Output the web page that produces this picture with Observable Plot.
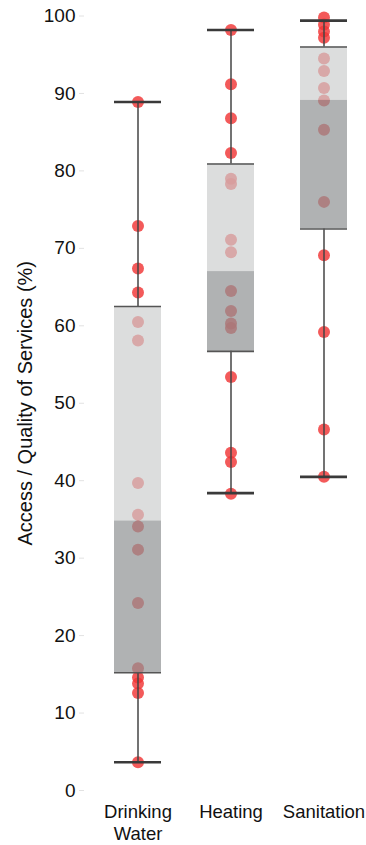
<!DOCTYPE html>
<html>
<head>
<meta charset="utf-8">
<script src="https://cdn.jsdelivr.net/npm/d3@7"></script>
<script src="https://cdn.jsdelivr.net/npm/@observablehq/plot@0.6"></script>
<style>
  html, body { margin: 0; padding: 0; background: #fff; }
</style>
</head>
<body>
<div id="chart"></div>
<script>
const categories = ["Drinking Water", "Heating", "Sanitation"];
const yTicks = [0, 10, 20, 30, 40, 50, 60, 70, 80, 90, 100];
const yTitle = "Access / Quality of Services (%)";

// individual observations per category
const drinkingWater = [88.9, 72.9, 67.4, 64.3, 60.5, 58.1, 39.7, 35.6, 34.1, 31.1, 24.2, 15.8, 14.6, 13.8, 12.6, 3.65];
const heating = [98.2, 91.2, 86.8, 82.3, 79.0, 78.3, 71.1, 69.5, 64.5, 61.9, 60.3, 59.7, 53.4, 43.6, 42.4, 38.3];
const sanitation = [99.8, 98.9, 98.0, 97.2, 94.5, 92.9, 90.7, 89.1, 85.3, 76.0, 69.1, 59.2, 46.6, 40.5];

// box statistics per category (same order as categories)
const whiskerMin = [3.65, 38.4, 40.5];
const q1 = [15.2, 56.7, 72.5];
const median = [34.8, 67.0, 89.1];
const q3 = [62.5, 80.9, 96.0];
const whiskerMax = [88.9, 98.2, 99.4];

const seriesValues = [drinkingWater, heating, sanitation];
const points = categories.flatMap((c, i) => seriesValues[i].map(v => ({category: c, value: v})));
const stats = categories.map((c, i) => ({
  category: c, min: whiskerMin[i], q1: q1[i], median: median[i], q3: q3[i], max: whiskerMax[i]
}));

const chart = Plot.plot({
  width: 366,
  height: 845,
  marginTop: 15.5,
  marginBottom: 55,
  marginLeft: 84,
  marginRight: 0,
  style: {fontFamily: "'Liberation Sans', Arial, Helvetica, sans-serif", fontSize: "18px", background: "#fff", color: "#111"},
  x: {domain: categories, range: [89.7, 371], paddingInner: 0.5, paddingOuter: 0.25, axis: null},
  y: {domain: [0, 100], axis: null},
  marks: [
    Plot.axisY({ticks: yTicks, tickSize: 5, tickPadding: 4, stroke: "#e2e2e2", fill: "#111", fontSize: 19, label: null}),
    Plot.axisX({tickSize: 0, tickPadding: 12, tickFormat: d => d.replace(" ", "\n"), lineHeight: 1.2, fill: "#111", fontSize: 18.5, label: null}),
    Plot.text([yTitle], {frameAnchor: "left", textAnchor: "middle", dx: -59, rotate: -90, fontSize: 20, fill: "#111"}),
    // points (drawn first so the boxes tint them)
    Plot.dot(points, {x: "category", y: "value", r: 6, fill: "#f03636", fillOpacity: 0.82, stroke: "none"}),
    // box halves
    Plot.barY(stats, {x: "category", y1: "median", y2: "q3", fill: "#cbcdcd", fillOpacity: 0.68}),
    Plot.barY(stats, {x: "category", y1: "q1", y2: "median", fill: "#8e9293", fillOpacity: 0.7}),
    // whiskers
    Plot.ruleX(stats, {x: "category", y1: "q3", y2: "max", stroke: "#444", strokeWidth: 1.5}),
    Plot.ruleX(stats, {x: "category", y1: "min", y2: "q1", stroke: "#444", strokeWidth: 1.5}),
    Plot.tickY(stats, {x: "category", y: "q1", stroke: "#555", strokeWidth: 1.6}),
    Plot.tickY(stats, {x: "category", y: "q3", stroke: "#555", strokeWidth: 1.6}),
    Plot.tickY(stats, {x: "category", y: "min", stroke: "#3a3a3a", strokeWidth: 2.6}),
    Plot.tickY(stats, {x: "category", y: "max", stroke: "#3a3a3a", strokeWidth: 2.6})
  ]
});
document.getElementById("chart").appendChild(chart);
</script>
</body>
</html>
